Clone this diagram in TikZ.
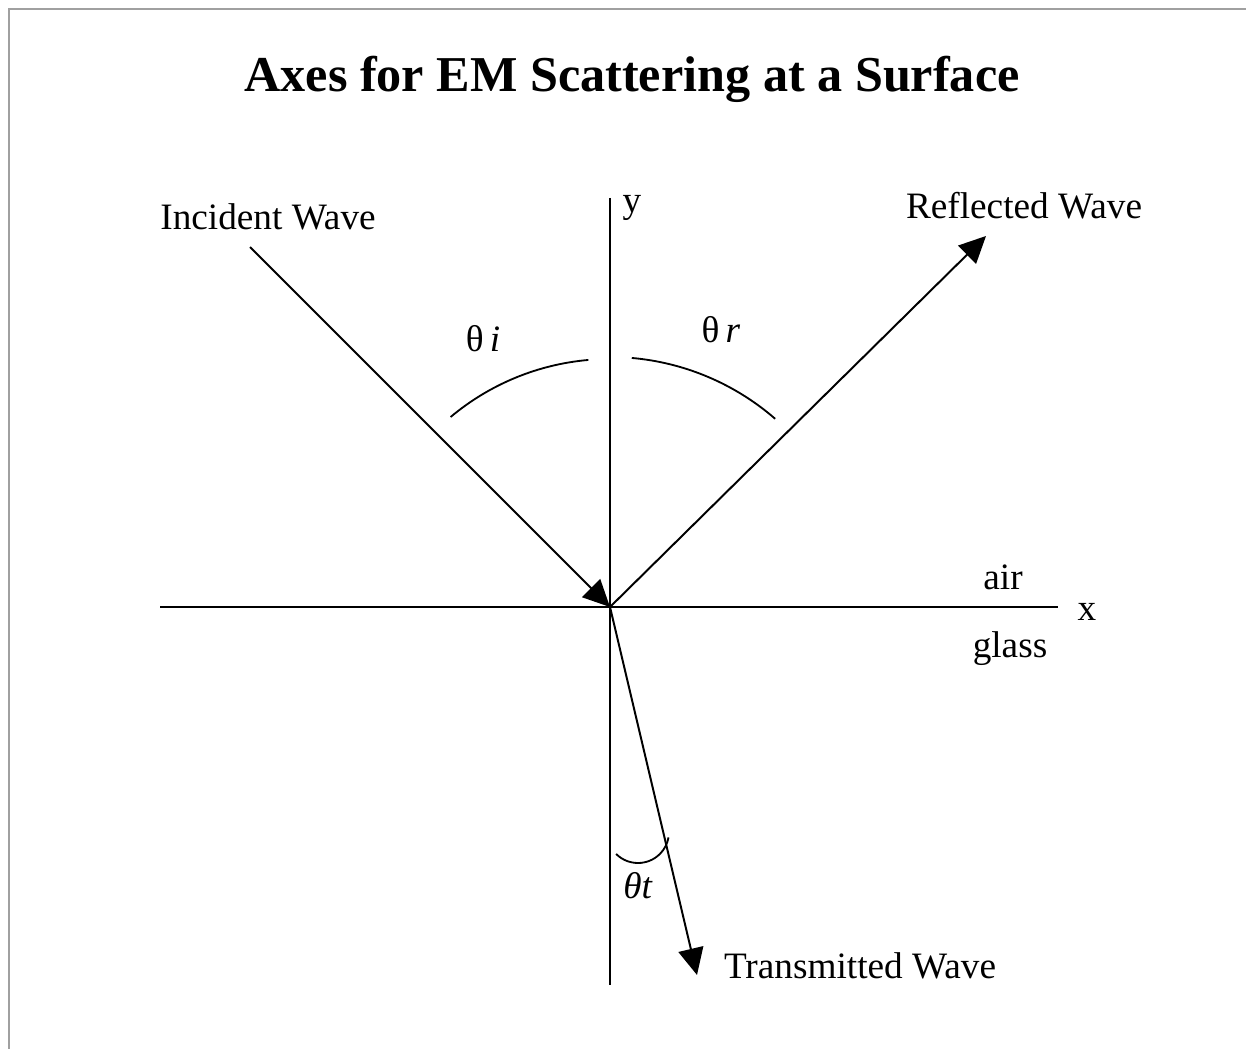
\documentclass[tikz,border=0pt]{standalone}
\usepackage{fontspec}
\setmainfont{Liberation Serif}
\usepackage{xcolor}
\usepackage{tikz}
\usetikzlibrary{calc,arrows.meta}
\definecolor{SFrame}{HTML}{A0A0A0}
\definecolor{SInk}{HTML}{000000}

\begin{document}
\begin{tikzpicture}[x=0.025cm, y=-0.025cm,
  every node/.style={align=center, text=SInk},
  lbl/.style={font=\fontsize{26.5}{30}\selectfont, anchor=base},
  axis/.style={draw=SInk, line width=1.4pt},
  wave/.style={axis, -{Triangle[length=19pt,width=18pt]}},
  angarc/.style={draw=SInk, line width=1.3pt}]
  \useasboundingbox (0,0) rectangle (1246,1049);
  \draw[draw=SFrame, line width=2pt] (9,1049) -- (9,9) -- (1246,9);

  \node[font=\fontsize{35.7}{40}\selectfont\bfseries, anchor=base] (title) at (632,92) {Axes for EM Scattering at a Surface};

  \coordinate (O)      at (610,607);
  \coordinate (ytop)   at (610,198);
  \coordinate (ybot)   at (610,985);
  \coordinate (xleft)  at (160,607);
  \coordinate (xright) at (1058,607);
  \coordinate (incA)   at (250,247);
  \coordinate (reflB)  at (986,236);
  \coordinate (transB) at (697,975);
  \coordinate (tc)     at (638,832);

  \draw[axis] (ytop) -- (ybot);
  \draw[axis] (xleft) -- (xright);
  \draw[wave] (incA) -- (O);
  \draw[wave] (O) -- (reflB);
  \draw[wave] (O) -- (transB);

  \draw[angarc] ($(O)+(230:248)$) arc[start angle=230, end angle=265, radius=248];
  \draw[angarc] ($(O)+(275:250)$) arc[start angle=275, end angle=311, radius=252];
  \draw[angarc] ($(tc)+(135:31)$) arc[start angle=135, end angle=10, radius=31];

  \node[lbl] (inc)   at (268,230)  {Incident Wave};
  \node[lbl] (refl)  at (1024,219) {Reflected Wave};
  \node[lbl] (trans) at (860,978)  {Transmitted Wave};
  \node[lbl] (ylab)  at (632,213)  {y};
  \node[lbl] (xlab)  at (1087,620) {x};
  \node[lbl] (air)   at (1003,589) {air};
  \node[lbl] (glass) at (1010,657) {glass};

  \node[lbl] (thi) at (483,352) {θ\,\textit{i}};
  \node[lbl] (thr) at (721,343) {θ\,\textit{r}};
  \node[lbl] (tht) at (638,898) {\textit{θt}};
\end{tikzpicture}
\end{document}
